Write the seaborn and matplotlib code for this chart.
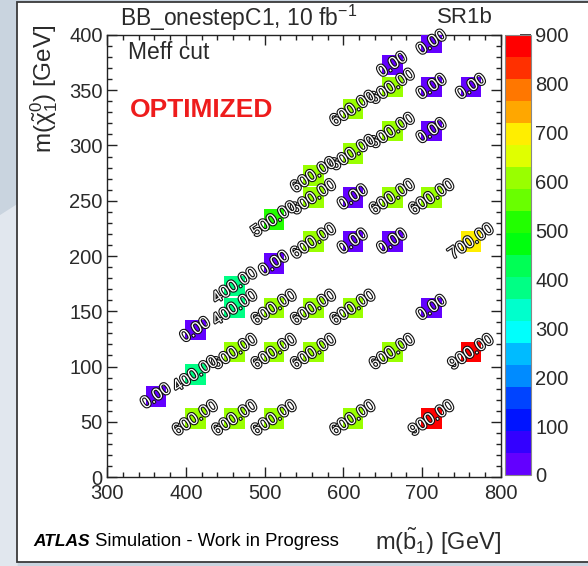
import colorsys
import numpy as np
import pandas as pd
import matplotlib
matplotlib.use("Agg")
import matplotlib.pyplot as plt
import matplotlib.colors as mcolors
import matplotlib.patheffects as pe
from matplotlib.patches import Rectangle, Polygon
from matplotlib.ticker import MultipleLocator
import seaborn as sns

# Signal grid: sbottom mass, neutralino mass, optimised Meff cut [GeV]
m_sbottom = [712, 662, 662, 712, 762, 612, 662, 712, 612, 562,
             562, 612, 662, 712, 512, 562, 612, 662, 762, 512,
             462, 462, 512, 562, 612, 712, 412, 462, 512, 562,
             662, 762, 412, 362, 412, 462, 512, 612, 712]
m_neutralino = [393, 373, 353, 353, 353, 333, 313, 313, 293, 273,
                253, 253, 253, 253, 233, 213, 213, 213, 213, 193,
                173, 153, 153, 153, 153, 153, 133, 113, 113, 113,
                113, 113, 93, 73, 53, 53, 53, 53, 53]
meff_cut = [0, 0, 600, 0, 0, 600, 600, 0, 600, 600,
            600, 0, 600, 600, 500, 600, 0, 0, 700, 0,
            400, 400, 600, 600, 600, 0, 0, 600, 600, 600,
            600, 900, 400, 0, 600, 600, 600, 600, 900]

x_ticks = [300, 400, 500, 600, 700, 800]
y_ticks = [0, 50, 100, 150, 200, 250, 300, 350, 400]
z_ticks = [0, 100, 200, 300, 400, 500, 600, 700, 800, 900]

df = pd.DataFrame({"msb": m_sbottom, "mchi": m_neutralino, "cut": meff_cut})

sns.set_style("ticks")
plt.rcParams["font.family"] = ["Liberation Sans", "DejaVu Sans"]
plt.rcParams["mathtext.fontset"] = "custom"
plt.rcParams["mathtext.rm"] = "Liberation Sans"
plt.rcParams["mathtext.it"] = "Liberation Sans"
plt.rcParams["mathtext.bf"] = "Liberation Sans:bold"

# "pretty" violet->red spectrum (HLS, 50 shades) sampled into 20 contour bands
n_bands = 20
n_shades = 50
band_colors = []
for k in range(n_bands):
    idx = int((k + 0.99) * n_shades / n_bands)
    hue = 0.0 if idx >= n_shades - 1 else 280.0 - (idx + 1) * 280.0 / n_shades
    band_colors.append(colorsys.hls_to_rgb(hue / 360.0, 0.5, 1.0))
cmap = mcolors.ListedColormap(band_colors)
norm = mcolors.BoundaryNorm(np.linspace(0, 900, n_bands + 1), n_bands)

fig = plt.figure(figsize=(5.88, 5.66), dpi=100)
fig.patch.set_facecolor("#c9d4df")
fig.patches.append(Polygon([[0, 0], [0, 0.62], [0.03, 0.64], [0.03, 0]],
                           closed=True, transform=fig.transFigure,
                           facecolor="#e1e7ee", edgecolor="none", zorder=-3))
fig.patches.append(Rectangle((0.029, 0.007), 1.2, 0.9895, transform=fig.transFigure,
                             facecolor="white", edgecolor="#3a3a3a", lw=1.3, zorder=-2))

ax = fig.add_axes([0.182, 0.1572, 0.670, 0.781])
cax = fig.add_axes([0.859, 0.1608, 0.044, 0.7774])
ax.set_facecolor("white")

sns.scatterplot(data=df, x="msb", y="mchi", hue="cut", palette=cmap, hue_norm=norm,
                marker="s", s=220, linewidth=0, legend=False, ax=ax, zorder=3)

outline = [pe.withStroke(linewidth=1.6, foreground="#111111")]
for xv, yv, v in zip(m_sbottom, m_neutralino, meff_cut):
    ax.text(xv, yv, f"{v:.2f}", rotation=34, rotation_mode="anchor",
            ha="center", va="center", fontsize=12, color="white",
            path_effects=outline, zorder=4)

ax.set_xlim(300, 800)
ax.set_ylim(0, 400)
ax.set_xticks(x_ticks)
ax.set_yticks(y_ticks)
ax.xaxis.set_minor_locator(MultipleLocator(20))
ax.yaxis.set_minor_locator(MultipleLocator(10))
ax.tick_params(which="both", direction="in", top=True, right=True, color="#222222", width=1)
ax.tick_params(which="major", length=7.5, labelsize=14.5, labelcolor="#2a2a2a")
ax.tick_params(which="minor", length=3.8)
ax.tick_params(axis="x", pad=5)
ax.tick_params(axis="y", pad=3)
ax.set_xlabel("")
ax.set_ylabel("")
for sp in ax.spines.values():
    sp.set_visible(True)
    sp.set_color("#222222")
    sp.set_linewidth(1)

sm = matplotlib.cm.ScalarMappable(norm=norm, cmap=cmap)
cb = fig.colorbar(sm, cax=cax, ticks=z_ticks)
cb.outline.set_edgecolor("#888888")
cb.outline.set_linewidth(0.8)
cax.tick_params(direction="in", length=8, width=1.2, color="#222222",
                labelsize=14.5, labelcolor="#2a2a2a", pad=3)
cax.minorticks_off()

fig.text(0.405, 0.969, r"BB_onestepC1, 10 fb$^{-1}$", ha="center", va="center",
         fontsize=16.5, color="#2a2a2a")
fig.text(0.791, 0.969, "SR1b", ha="center", va="center", fontsize=16, color="#2a2a2a")
fig.text(0.218, 0.908, "Meff cut", ha="left", va="center", fontsize=16.5, color="#2a2a2a")
fig.text(0.221, 0.806, "OPTIMIZED", ha="left", va="center", fontsize=19,
         fontweight="bold", color="#ee1c1c")
fig.text(0.075, 0.956, r"m($\tilde{\chi}^{0}_{1}$) [GeV]", rotation=90,
         ha="center", va="top", fontsize=17.5, color="#2a2a2a")
fig.text(0.852, 0.044, r"m($\tilde{b}_{1}$) [GeV]", ha="right", va="center",
         fontsize=17, color="#2a2a2a")

t1 = fig.text(0.056, 0.044, "ATLAS", ha="left", va="center", fontsize=12.5,
              fontweight="bold", fontstyle="italic", color="black")
fig.canvas.draw()
bb = t1.get_window_extent(renderer=fig.canvas.get_renderer())
x_next = bb.x1 / fig.bbox.width
fig.text(x_next, 0.044, " Simulation - Work in Progress", ha="left", va="center",
         fontsize=13.3, color="black")

fig.savefig("out.png", dpi=100, facecolor=fig.get_facecolor())
